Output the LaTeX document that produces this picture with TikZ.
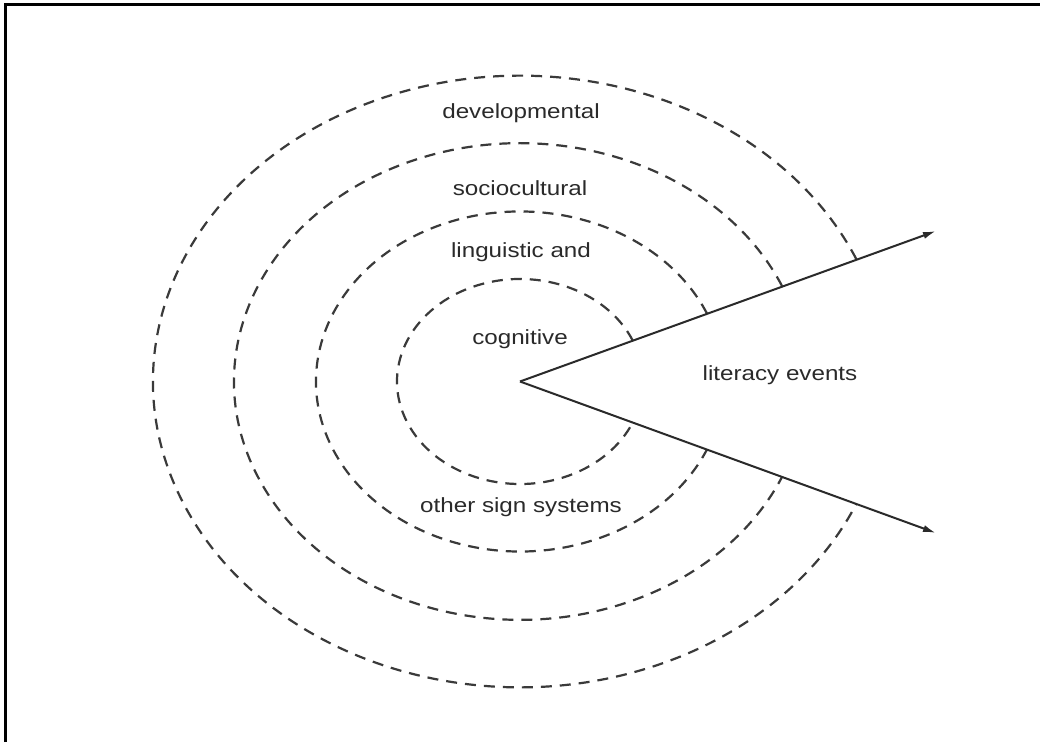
\documentclass[tikz,border=0pt]{standalone}
\usepackage{fontspec}
\setmainfont{Liberation Sans}
\usetikzlibrary{arrows.meta}
\definecolor{ink}{HTML}{2A2A2A}
\definecolor{dashink}{HTML}{3A3A3A}
\tikzset{
  ring/.style={draw=dashink, line width=2.2pt, dash pattern=on 11pt off 8pt},
  ray/.style={draw=ink, line width=2pt, -{Latex[length=13pt,width=7pt]}},
  lbl/.style={text=ink, inner sep=0pt, anchor=base, font=\fontsize{20.5}{24}\selectfont},
  frame/.style={draw=black, line width=3pt}
}
\newcommand{\wide}[1]{\scalebox{1.18}[1]{#1}}
\begin{document}
\begin{tikzpicture}[x=1pt,y=1pt]
  \useasboundingbox (0,0) rectangle (1040,742);
  \fill[white] (0,0) rectangle (1040,742);
  % frame (left and top edges)
  \coordinate (FB) at (5,0);
  \coordinate (FC) at (5,737);
  \coordinate (FR) at (1040,737);
  \draw[frame] (FB) -- (FC) -- (FR);
  % centre and arrow tips
  \coordinate (C) at (520,360.5);
  \coordinate (T1) at (936,511);
  \coordinate (T2) at (936,209);
  % dashed elliptical arcs
  \foreach \a/\b in {123/102.5, 204/170, 286/238.3, 367/305.8}{
    \draw[ring] ([shift={(23.6:\a pt and \b pt)}]C)
      arc[start angle=23.6, end angle=336.4, x radius=\a pt, y radius=\b pt];
  }
  % arrows
  \draw[ray] (C) -- (T1);
  \draw[ray] (C) -- (T2);
  % labels
  \node[lbl] (dev) at (521,623.5) {\wide{developmental}};
  \node[lbl] (soc) at (520,546.5) {\wide{sociocultural}};
  \node[lbl] (lin) at (521,484) {\wide{linguistic and}};
  \node[lbl] (cog) at (520,397) {\wide{cognitive}};
  \node[lbl] (oth) at (521,229.5) {\wide{other sign systems}};
  \node[lbl] (lit) at (780,361) {\wide{literacy events}};
\end{tikzpicture}
\end{document}
